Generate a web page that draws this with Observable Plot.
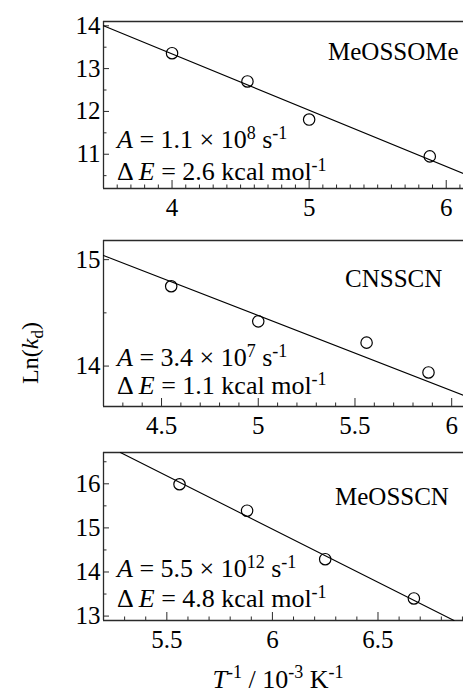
<!DOCTYPE html>
<html>
<head>
<meta charset="utf-8">
<script src="https://cdn.jsdelivr.net/npm/d3@7"></script>
<script src="https://cdn.jsdelivr.net/npm/@observablehq/plot@0.6"></script>
<style>
html, body { margin: 0; padding: 0; background: #fff; overflow: hidden; }
#wrap { position: relative; width: 463px; height: 693px; font-family: "Liberation Serif", "Times New Roman", serif; color: #000; }
.panel { position: absolute; left: 0; }
.panel svg { background: transparent !important; }
#wrap svg text, #wrap svg tspan { font-family: "Liberation Serif", "Times New Roman", serif !important; }
#ylab { position: absolute; left: 30px; top: 353px; transform: translate(-50%, -50%) rotate(-90deg); font-size: 24px; white-space: nowrap; line-height: 1; }
#xlab { position: absolute; left: 278px; top: 667px; transform: translateX(-50%); font-size: 26px; white-space: nowrap; line-height: 1; }
sup { font-size: 18px; vertical-align: 0; position: relative; top: -10px; }
sub { font-size: 17px; vertical-align: 0; position: relative; top: 5px; }
</style>
</head>
<body>
<div id="wrap">
  <div id="ylab">Ln(<i>k</i><sub>d</sub>)</div>
  <div id="xlab"><i>T</i><sup>-1</sup> / 10<sup>-3</sup> K<sup>-1</sup></div>
</div>
<script>
// ---------- data ----------
const compounds = ["MeOSSOMe", "CNSSCN", "MeOSSCN"];

const invT_MeOSSOMe = [4.0, 4.55, 5.0, 5.88];
const lnk_MeOSSOMe  = [13.36, 12.70, 11.81, 10.95];
const invT_CNSSCN   = [4.55, 5.0, 5.56, 5.88];
const lnk_CNSSCN    = [14.75, 14.42, 14.22, 13.94];
const invT_MeOSSCN  = [5.56, 5.88, 6.25, 6.67];
const lnk_MeOSSCN   = [15.99, 15.39, 14.29, 13.40];

// fitted Arrhenius lines (end points)
const fitX_MeOSSOMe = [3.5, 6.126];  const fitY_MeOSSOMe = [14.0, 10.55];
const fitX_CNSSCN   = [4.2, 6.061];  const fitY_CNSSCN   = [15.04, 13.725];
const fitX_MeOSSCN  = [5.28, 6.86];  const fitY_MeOSSCN  = [16.71, 12.9];

// Arrhenius parameters shown in the panels
const A_mantissa = ["1.1", "3.4", "5.5"];
const A_exponent = ["8", "7", "12"];
const deltaE     = ["2.6", "1.1", "4.8"];

// axes
const xDomain_MeOSSOMe = [3.5, 6.126], yDomain_MeOSSOMe = [10.2, 14.1];
const xDomain_CNSSCN   = [4.2, 6.061], yDomain_CNSSCN   = [13.62, 15.18];
const xDomain_MeOSSCN  = [5.2, 6.905], yDomain_MeOSSCN  = [12.9, 16.71];
const xTicks_MeOSSOMe = [4, 5, 6];          const yTicks_MeOSSOMe = [11, 12, 13, 14];
const xTicks_CNSSCN   = [4.5, 5, 5.5, 6];   const yTicks_CNSSCN   = [14, 15];
const xTicks_MeOSSCN  = [5.5, 6, 6.5];      const yTicks_MeOSSCN  = [13, 14, 15, 16];
const xMinorStep = 0.1, yMinorStep = 0.5;

// ---------- layout ----------
const FONT = '"Liberation Serif", "Times New Roman", serif';
const W = 463, ML = 103, MB = 35;
const FRAME = "#2a2a2a";

const panels = [
  {name: compounds[0], xs: invT_MeOSSOMe, ys: lnk_MeOSSOMe, fx: fitX_MeOSSOMe, fy: fitY_MeOSSOMe,
   xd: xDomain_MeOSSOMe, yd: yDomain_MeOSSOMe, xt: xTicks_MeOSSOMe, yt: yTicks_MeOSSOMe,
   top: 0, mt: 21, h: 223, label: [328, 39], a1: -40, a2: -8},
  {name: compounds[1], xs: invT_CNSSCN, ys: lnk_CNSSCN, fx: fitX_CNSSCN, fy: fitY_CNSSCN,
   xd: xDomain_CNSSCN, yd: yDomain_CNSSCN, xt: xTicks_CNSSCN, yt: yTicks_CNSSCN,
   top: 220, mt: 20, h: 221, label: [345, 47], a1: -40, a2: -12},
  {name: compounds[2], xs: invT_MeOSSCN, ys: lnk_MeOSSCN, fx: fitX_MeOSSCN, fy: fitY_MeOSSCN,
   xd: xDomain_MeOSSCN, yd: yDomain_MeOSSCN, xt: xTicks_MeOSSCN, yt: yTicks_MeOSSCN,
   top: 440, mt: 12, h: 215, label: [335, 53], a1: -43, a2: -13}
];

function minorTicks(domain, step) {
  const out = [];
  const start = Math.ceil(domain[0] / step - 1e-9);
  const end = Math.floor(domain[1] / step + 1e-9);
  for (let i = start; i <= end; i++) out.push(+(i * step).toFixed(4));
  return out;
}

function annotations(p, i) {
  return () => {
    const g = d3.create("svg:g").attr("fill", "#000").attr("text-anchor", "start")
      .style("font-family", FONT).style("text-anchor", "start");
    const x0 = ML + 14;
    const bottom = p.h - MB;
    const topY = p.mt;
    // compound name
    g.append("text").attr("x", p.label[0]).attr("y", topY + p.label[1])
      .style("font-size", "25px").text(p.name);
    // A line
    const t1 = g.append("text").attr("x", x0).attr("y", bottom + p.a1).style("font-size", "26px");
    t1.append("tspan").style("font-style", "italic").text("A");
    t1.append("tspan").text(" = " + A_mantissa[i] + " \u00D7 10");
    t1.append("tspan").style("font-size", "18px").attr("dy", -9).text(A_exponent[i]);
    t1.append("tspan").attr("dy", 9).text(" s");
    t1.append("tspan").style("font-size", "18px").attr("dy", -9).text("-1");
    // Delta E line
    const t2 = g.append("text").attr("x", x0).attr("y", bottom + p.a2).style("font-size", "26px");
    t2.append("tspan").text("\u0394 ");
    t2.append("tspan").style("font-style", "italic").text("E");
    t2.append("tspan").text(" = " + deltaE[i] + " kcal mol");
    t2.append("tspan").style("font-size", "18px").attr("dy", -9).text("-1");
    return g.node();
  };
}

const wrap = document.getElementById("wrap");

panels.forEach((p, i) => {
  const pts = p.xs.map((x, k) => ({x, y: p.ys[k]}));
  const fit = p.fx.map((x, k) => ({x, y: p.fy[k]}));
  const xMinor = minorTicks(p.xd, xMinorStep).filter(v => !p.xt.includes(v));
  const yMinor = minorTicks(p.yd, yMinorStep).filter(v => !p.yt.includes(v));

  const chart = Plot.plot({
    width: W,
    height: p.h,
    marginLeft: ML,
    marginRight: 0,
    marginTop: p.mt,
    marginBottom: MB,
    style: {fontFamily: FONT, fontSize: "25px", background: "transparent", color: "#000", overflow: "visible"},
    x: {domain: p.xd, label: null},
    y: {domain: p.yd, label: null},
    marks: [
      // frame (top, left, bottom)
      Plot.ruleY([p.yd[1]], {stroke: FRAME, strokeWidth: 1.3}),
      Plot.ruleY([p.yd[0]], {stroke: FRAME, strokeWidth: 1.3}),
      Plot.ruleX([p.xd[0]], {stroke: FRAME, strokeWidth: 1.3}),
      // inward ticks
      Plot.ruleX(p.xt, {x: d => d, y1: p.yd[0], y2: p.yd[0], insetTop: -8, stroke: FRAME, strokeWidth: 1}),
      Plot.ruleX(xMinor, {x: d => d, y1: p.yd[0], y2: p.yd[0], insetTop: -3.5, stroke: FRAME, strokeWidth: 1}),
      Plot.ruleY(p.yt, {y: d => d, x1: p.xd[0], x2: p.xd[0], insetRight: -6, stroke: FRAME, strokeWidth: 1}),
      Plot.ruleY(yMinor, {y: d => d, x1: p.xd[0], x2: p.xd[0], insetRight: -3.5, stroke: FRAME, strokeWidth: 1}),
      // tick labels
      Plot.axisX(p.xt, {anchor: "bottom", label: null, tickSize: 0, tickPadding: 10, tickFormat: d => String(d), fill: "#000"}),
      Plot.axisY(p.yt, {anchor: "left", label: null, tickSize: 0, tickPadding: 3, tickFormat: d => String(d), fill: "#000"}),
      // fit line and data
      Plot.line(fit, {x: "x", y: "y", stroke: "#000", strokeWidth: 1.1}),
      Plot.dot(pts, {x: "x", y: "y", r: 5.7, stroke: "#000", strokeWidth: 1.2, fill: "none"}),
      annotations(p, i)
    ]
  });
  const div = document.createElement("div");
  div.className = "panel";
  div.style.top = p.top + "px";
  div.appendChild(chart);
  wrap.appendChild(div);
});
</script>
</body>
</html>
